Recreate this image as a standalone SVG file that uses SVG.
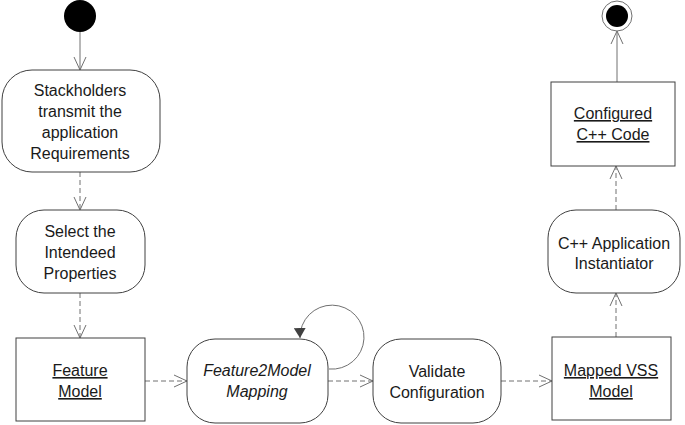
<svg xmlns="http://www.w3.org/2000/svg" width="685" height="425" viewBox="0 0 685 425">
<defs>
<style>
.box{fill:#fff;stroke:#404040;stroke-width:1}
.t{font-family:"Liberation Sans",Arial,sans-serif;font-size:16px;fill:#1a1a1a;text-anchor:middle}
.u{text-decoration:underline}
.i{font-style:italic}
.c{fill:none;stroke:#707070;stroke-width:1}
.d{stroke-dasharray:5,3}
</style>
<marker id="open" markerUnits="userSpaceOnUse" markerWidth="14" markerHeight="14" refX="13" refY="6" orient="auto" viewBox="0 0 14 12">
<path d="M0,0 L13,6 L0,12" fill="none" stroke="#707070" stroke-width="1"/>
</marker>
<marker id="fill" markerUnits="userSpaceOnUse" markerWidth="12" markerHeight="12" refX="10" refY="6" orient="auto" viewBox="0 0 12 12">
<path d="M0,0 L10,6 L0,12 Z" fill="#404040"/>
</marker>
</defs>
<rect width="685" height="425" fill="#fff"/>
<g id="connectors">
<line class="c" x1="80" y1="32" x2="80" y2="70" marker-end="url(#open)"/>
<line class="c d" x1="80" y1="172" x2="80" y2="210" marker-end="url(#open)"/>
<line class="c d" x1="80" y1="293" x2="80" y2="338" marker-end="url(#open)"/>
<line class="c d" x1="145" y1="381" x2="187" y2="381" marker-end="url(#open)"/>
<path class="c" d="M329,369 A32,32 0 1 0 300,338" stroke="#505050" marker-end="url(#fill)"/>
<line class="c d" x1="328" y1="381" x2="373" y2="381" marker-end="url(#open)"/>
<line class="c d" x1="501" y1="381" x2="552" y2="381" marker-end="url(#open)"/>
<line class="c d" x1="616" y1="337" x2="616" y2="293" marker-end="url(#open)"/>
<line class="c d" x1="616" y1="210" x2="616" y2="166" marker-end="url(#open)"/>
<line class="c" x1="617" y1="82" x2="617" y2="31" marker-end="url(#open)"/>
</g>
<g id="start"><circle cx="80" cy="16" r="16" fill="#000"/></g>
<g id="end"><circle cx="617" cy="16" r="15" fill="#fff" stroke="#707070"/><circle cx="617" cy="16" r="11" fill="#000"/></g>
<g id="stakeholders">
<rect class="box" x="2" y="70" width="158" height="102" rx="30"/>
<text class="t" x="80" y="96">Stackholders</text>
<text class="t" x="80" y="117">transmit the</text>
<text class="t" x="80" y="138">application</text>
<text class="t" x="80" y="159">Requirements</text>
</g>
<g id="select">
<rect class="box" x="16" y="210" width="129" height="83" rx="28"/>
<text class="t" x="80" y="237">Select the</text>
<text class="t" x="80" y="258">Intendeed</text>
<text class="t" x="80" y="279">Properties</text>
</g>
<g id="featureModel">
<rect class="box" x="16" y="338" width="129" height="83"/>
<text class="t u" x="80" y="376">Feature</text>
<text class="t u" x="80" y="397">Model</text>
</g>
<g id="mapping">
<rect class="box" x="187" y="339" width="141" height="84" rx="28"/>
<text class="t i" x="257" y="376">Feature2Model</text>
<text class="t i" x="257" y="397">Mapping</text>
</g>
<g id="validate">
<rect class="box" x="373" y="339" width="128" height="84" rx="28"/>
<text class="t" x="437" y="377">Validate</text>
<text class="t" x="437" y="398">Configuration</text>
</g>
<g id="mappedVSS">
<rect class="box" x="552" y="337" width="119" height="83"/>
<text class="t u" x="611" y="376">Mapped VSS</text>
<text class="t u" x="611" y="397">Model</text>
</g>
<g id="instantiator">
<rect class="box" x="548" y="210" width="132" height="83" rx="28"/>
<text class="t" x="614" y="249">C++ Application</text>
<text class="t" x="614" y="269">Instantiator</text>
</g>
<g id="configured">
<rect class="box" x="551" y="82" width="124" height="84"/>
<text class="t u" x="613" y="119">Configured</text>
<text class="t u" x="613" y="140">C++ Code</text>
</g>
</svg>
